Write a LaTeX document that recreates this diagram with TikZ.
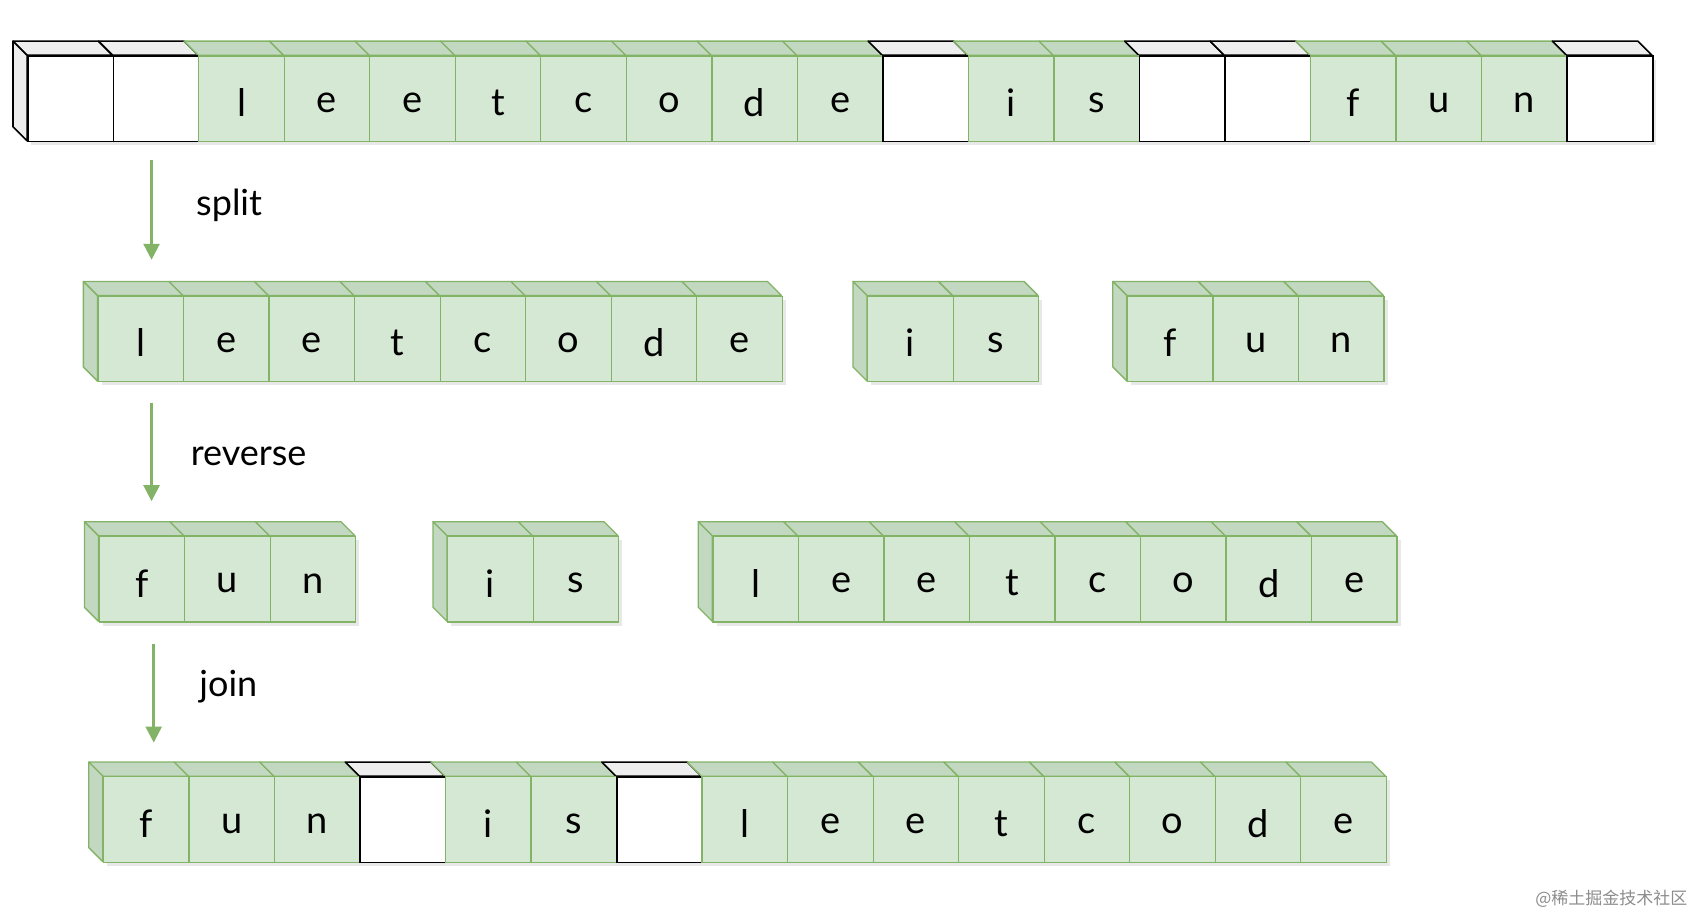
\documentclass[tikz,border=0pt]{standalone}
\usepackage{fontspec}
\setmainfont{Lato}
\newfontfamily\cjk{Noto Sans CJK SC}
\usetikzlibrary{arrows.meta,shadows}
\definecolor{gfill}{HTML}{D5E8D4}
\definecolor{gtop}{HTML}{C3D8C1}
\definecolor{gline}{HTML}{82B366}
\definecolor{wtop}{HTML}{EEEEEE}
\tikzset{
  x=1.0825pt, y=-1.0825pt,
  face g/.style={fill=gfill, draw=gline, line width=1.3pt},
  side g/.style={fill=gtop, draw=gline, line width=1.3pt, line join=round},
  face w/.style={fill=white, draw=black, line width=1.6pt},
  side w/.style={fill=wtop, draw=black, line width=1.6pt, line join=round},
  lab/.style={font=\fontsize{36}{40}\selectfont},
  ltr/.style={font=\fontsize{38}{42}\selectfont, yshift=-4pt},
  flowarr/.style={draw=gline, line width=2.5pt, -{Triangle[length=16pt,width=16pt]}},
  shd/.style={fill=black!18, draw=none, opacity=0.5}
}
% \mkrow{prefix}{x0}{y0}{list letter/type}
\newcommand\mkrow[4]{%
  \def\rw{79.0}\def\rh{79}%
  \foreach \l/\t [count=\i from 0] in {#4}{%
    \pgfmathsetmacro\xa{#2+\i*\rw}\pgfmathsetmacro\xb{\xa+\rw}%
    \fill[shd] (\xa+4,#3+4) rectangle (\xb+4,#3+\rh+4);
  }%
  \foreach \l/\t [count=\i from 0] in {#4}{%
    \pgfmathsetmacro\xa{#2+\i*\rw}\pgfmathsetmacro\xb{\xa+\rw}%
    \draw[side \t] (\xa,#3) -- (\xa-13,#3-13) -- (\xb-13,#3-13) -- (\xb,#3) -- cycle;
    \ifnum\i=0 \draw[side \t] (\xa,#3) -- (\xa-13,#3-13) -- (\xa-13,#3+\rh-13) -- (\xa,#3+\rh) -- cycle;\fi
  }%
  \foreach \l/\t [count=\i from 0] in {#4}{%
    \pgfmathsetmacro\xa{#2+\i*\rw}%
    \node[face \t, minimum width=\rw*1.0825pt, minimum height=\rh*1.0825pt, inner sep=0pt, anchor=north west] (#1\i) at (\xa,#3) {};
    \node[ltr] (#1t\i) at (#1\i) {\l};
  }%
}
\begin{document}
\begin{tikzpicture}
\useasboundingbox (0,0) rectangle (1564.9,844.3);
\mkrow{a}{25}{51}{{}/w,{}/w,l/g,e/g,e/g,t/g,c/g,o/g,d/g,e/g,{}/w,i/g,s/g,{}/w,{}/w,f/g,u/g,n/g,{}/w}
\mkrow{b}{90}{273}{l/g,e/g,e/g,t/g,c/g,o/g,d/g,e/g}
\mkrow{c}{801}{273}{i/g,s/g}
\mkrow{d}{1041}{273}{f/g,u/g,n/g}
\mkrow{e}{91}{495}{f/g,u/g,n/g}
\mkrow{f}{413}{495}{i/g,s/g}
\mkrow{g}{658}{495}{l/g,e/g,e/g,t/g,c/g,o/g,d/g,e/g}
\mkrow{h}{95}{717}{f/g,u/g,n/g,{}/w,i/g,s/g,{}/w,l/g,e/g,e/g,t/g,c/g,o/g,d/g,e/g}
\coordinate (s1) at (140,148); \coordinate (e1) at (140,240);
\coordinate (s2) at (140,372); \coordinate (e2) at (140,463);
\coordinate (s3) at (142,595); \coordinate (e3) at (142,686);
\draw[flowarr] (s1) -- (e1);
\draw[flowarr] (s2) -- (e2);
\draw[flowarr] (s3) -- (e3);
\node[lab, anchor=west] (l1) at (178,190) {split};
\node[lab, anchor=west] (l2) at (173,422) {reverse};
\node[lab, anchor=west] (l3) at (181,634) {join};
\node[anchor=east, text=black!45, font=\cjk\fontsize{17}{19}\selectfont] (wm) at (1562,830) {@稀土掘金技术社区};
\end{tikzpicture}
\end{document}
